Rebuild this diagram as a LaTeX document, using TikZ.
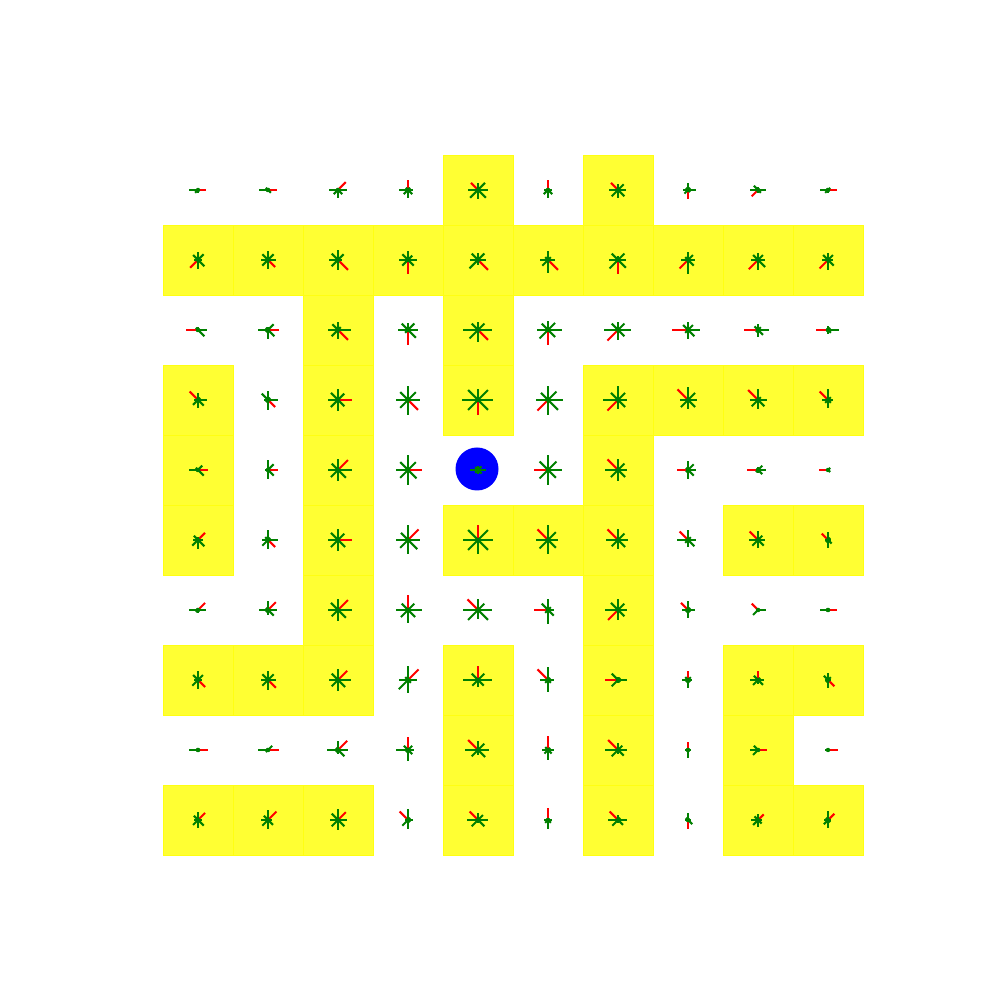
\documentclass[tikz,border=0pt]{standalone}
\usepackage{tikz}
\definecolor{casilla}{HTML}{FFFF33}
\definecolor{borde}{HTML}{FFFF12}
\definecolor{verde}{HTML}{008000}
\definecolor{rojo}{HTML}{FF0000}
\definecolor{agente}{HTML}{0000FF}
\tikzset{
  brazo/.style={line width=0.6pt, line cap=butt},
  celda/.style={fill=casilla, draw=borde, line width=0.25pt}
}

\begin{document}
\begin{tikzpicture}
  \useasboundingbox (0,0) rectangle (10,10);
  % casillas amarillas
  \foreach \x/\y in {4/0, 6/0, 0/1, 1/1, 2/1, 3/1, 4/1, 5/1, 6/1, 7/1, 8/1, 9/1,
                     2/2, 4/2, 0/3, 2/3, 4/3, 6/3, 7/3, 8/3, 9/3, 0/4, 2/4, 6/4,
                     0/5, 2/5, 4/5, 5/5, 6/5, 8/5, 9/5, 2/6, 6/6,
                     0/7, 1/7, 2/7, 4/7, 6/7, 8/7, 9/7, 4/8, 6/8, 8/8,
                     0/9, 1/9, 2/9, 4/9, 6/9, 8/9, 9/9} {
    \path[celda] (1.63+0.7*\x, 8.45-0.7*\y) rectangle ++(0.7,-0.7);
  }
  % agente
  \node[circle, fill=agente, inner sep=0pt, minimum size=0.43cm] (agente) at (4.77, 5.31) {};
  % estrellas: E, NE, N, NO, O, SO, S, SE
  \foreach \x/\y/\r/\lens in {
      0/0/0/{8,1,1,1,9,4,3,1}, 1/0/0/{9,2,2,3,9,2,2,4}, 2/0/1/{9,11,2,2,9,6,8,6},
      3/0/2/{5,3,10,3,9,6,8,6}, 4/0/3/{10,10,7,10,10,11,9,11}, 5/0/2/{4,2,10,2,4,6,8,6},
      6/0/3/{8,8,6,10,9,9,8,9}, 7/0/6/{8,3,7,3,5,5,9,3}, 8/0/5/{8,2,3,6,8,9,3,4},
      9/0/0/{9,3,2,2,8,4,3,2},
      0/1/5/{4,8,8,7,4,11,9,9}, 1/1/7/{8,8,9,8,7,8,9,10}, 2/1/7/{4,8,10,9,9,9,10,14},
      3/1/6/{9,6,9,8,9,8,14,8}, 4/1/7/{8,9,7,9,8,12,5,14}, 5/1/7/{7,4,9,4,8,8,13,14},
      6/1/6/{8,9,4,9,9,12,14,11}, 7/1/5/{7,7,8,4,7,12,14,8}, 8/1/5/{7,7,7,7,7,13,10,10},
      9/1/5/{5,7,7,7,6,12,10,8},
      0/2/4/{9,2,3,3,12,2,2,9}, 1/2/0/{11,8,3,3,10,3,9,9}, 2/2/7/{13,4,8,8,10,9,9,14},
      3/2/6/{10,9,7,9,10,4,15,11}, 4/2/7/{14,9,8,9,15,12,12,14}, 5/2/6/{14,10,9,9,11,12,15,10},
      6/2/5/{13,9,8,9,14,15,10,9}, 7/2/4/{12,7,8,7,16,4,9,9}, 8/2/4/{11,4,6,5,14,3,7,7},
      9/2/4/{11,3,4,2,12,2,4,4},
      0/3/3/{9,3,7,12,4,7,8,8}, 1/3/7/{10,3,9,9,4,3,10,10}, 2/3/0/{14,9,11,10,10,10,11,9},
      3/3/7/{12,11,14,11,12,11,15,14}, 4/3/6/{15,14,11,14,16,14,15,14}, 5/3/5/{15,12,14,10,12,15,15,14},
      6/3/5/{9,10,14,10,15,15,9,10}, 7/3/3/{9,10,13,15,8,10,9,10}, 8/3/3/{9,4,11,14,8,9,9,9},
      9/3/3/{5,4,11,12,6,4,8,4},
      0/4/0/{10,6,2,3,9,2,2,8}, 1/4/0/{10,8,10,2,3,2,9,8}, 2/4/1/{14,14,11,9,10,10,11,11},
      3/4/0/{14,11,15,11,12,11,15,12}, 4/4/-1/{8,5,4,4,8,4,4,5}, 5/4/4/{14,12,15,12,14,12,15,11},
      6/4/3/{9,9,11,15,13,10,11,10}, 7/4/4/{8,8,9,3,11,3,9,8}, 8/4/4/{8,6,3,2,11,3,3,6},
      9/4/4/{2,3,2,1,9,1,2,3},
      0/5/1/{5,10,3,6,5,8,9,9}, 1/5/7/{10,3,10,4,6,8,9,10}, 2/5/0/{14,9,11,10,10,10,11,10},
      3/5/1/{12,15,15,10,12,11,14,13}, 4/5/2/{15,14,15,14,15,14,14,14}, 5/5/3/{10,11,15,15,12,12,14,11},
      6/5/3/{10,9,11,15,12,9,9,10}, 7/5/3/{8,4,10,12,11,4,7,9}, 8/5/3/{7,6,9,12,9,8,8,8},
      9/5/3/{3,3,8,9,3,3,8,5},
      0/6/1/{8,10,2,2,9,3,3,2}, 1/6/1/{9,11,9,3,9,3,5,8}, 2/6/1/{14,14,11,10,10,9,11,11},
      3/6/2/{14,9,15,9,12,10,13,10}, 4/6/3/{14,9,11,15,15,14,9,14}, 5/6/4/{6,4,11,9,14,4,14,8},
      6/6/5/{9,9,11,10,13,14,10,9}, 7/6/3/{7,3,9,10,6,3,8,3}, 8/6/3/{8,2,2,9,2,7,2,2},
      9/6/0/{9,2,2,2,8,2,2,2},
      0/7/7/{4,7,9,7,4,8,9,10}, 1/7/7/{8,8,9,8,7,8,10,11}, 2/7/1/{13,13,11,9,9,9,11,10},
      3/7/1/{9,15,14,4,9,13,13,4}, 4/7/2/{14,9,14,9,15,8,7,8}, 5/7/3/{6,3,13,15,8,4,12,4},
      6/7/4/{9,3,3,9,13,9,3,3}, 7/7/2/{4,4,9,4,6,3,8,3}, 8/7/2/{6,3,9,6,8,7,4,7},
      9/7/7/{3,4,7,6,3,3,8,9},
      0/8/0/{10,2,2,2,9,2,2,2}, 1/8/0/{11,6,2,2,10,3,2,2}, 2/8/1/{10,13,9,3,11,3,4,9},
      3/8/2/{6,6,13,6,12,3,11,6}, 4/8/3/{11,9,9,14,13,9,5,10}, 5/8/2/{6,3,14,4,6,5,10,5},
      6/8/3/{9,6,7,14,13,9,4,8}, 7/8/2/{3,2,8,2,3,2,8,2}, 8/8/0/{9,2,2,6,8,7,2,2},
      9/8/0/{10,1,1,1,3,1,1,1},
      0/9/1/{4,10,8,6,4,7,8,8}, 1/9/1/{4,12,10,6,7,8,9,7}, 2/9/1/{9,11,11,9,8,9,10,9},
      3/9/3/{5,3,11,12,3,8,9,3}, 4/9/3/{10,7,7,12,11,9,3,9}, 5/9/2/{4,2,12,2,4,4,9,4},
      6/9/3/{9,3,5,12,10,8,3,7}, 7/9/6/{3,2,7,3,3,2,9,6}, 8/9/1/{4,8,6,5,7,7,7,5},
      9/9/1/{3,9,9,3,4,6,8,3}} {
    \coordinate (centro) at (1.98+0.7*\x, 8.10-0.7*\y);
    \foreach \l [count=\k from 0] in \lens {
      \ifnum\k=\r\relax\draw[brazo, rojo] (centro) -- ++(\k*45:\l*0.01);\fi
    }
    \foreach \l [count=\k from 0] in \lens {
      \ifnum\k=\r\relax\else\draw[brazo, verde] (centro) -- ++(\k*45:\l*0.01);\fi
    }
    \fill[verde] (centro) circle (0.022);
  }
\end{tikzpicture}
\end{document}
